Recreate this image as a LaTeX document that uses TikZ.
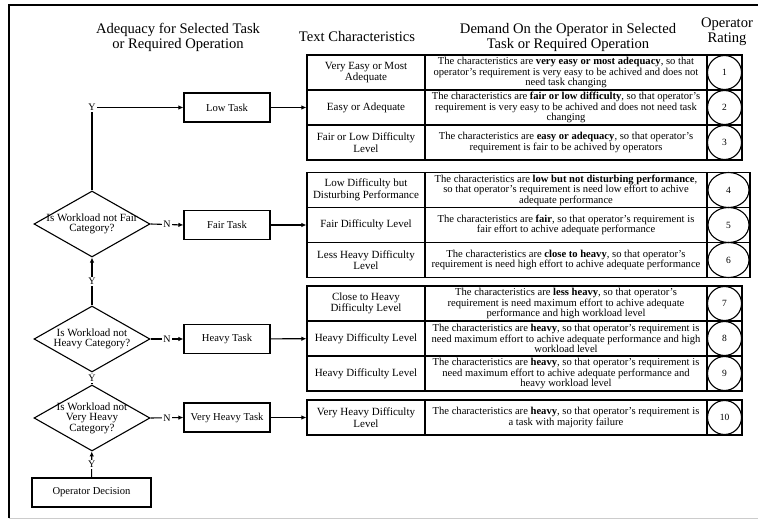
\documentclass[tikz,border=0pt]{standalone}
\usepackage{fontspec}
\setmainfont{Liberation Serif}
\usetikzlibrary{shapes.geometric,arrows.meta}
\tikzstyle{hdr}=[align=center,font=\fontsize{14.6}{15}\selectfont]
\tikzstyle{task}=[draw,line width=1.1pt,minimum width=86pt,minimum height=29pt,
  inner sep=0pt,font=\fontsize{10.6}{12}\selectfont]
\tikzstyle{dec}=[diamond,draw,line width=1.1pt,minimum width=116pt,minimum height=66pt,inner sep=0pt]
\tikzstyle{dectext}=[align=center,font=\fontsize{11}{10.6}\selectfont,inner sep=0pt]
\tikzstyle{kind}=[draw,line width=1.2pt,minimum width=118pt,minimum height=35pt,
  inner sep=0pt,align=center,font=\fontsize{11}{11.5}\selectfont]
\tikzstyle{desc}=[draw,line width=1.2pt,minimum width=282pt,minimum height=35pt,
  inner sep=0pt,align=center,font=\fontsize{10.6}{10.6}\selectfont]
\tikzstyle{cellr}=[draw,line width=1.2pt,minimum width=35pt,minimum height=35pt,inner sep=0pt]
\tikzstyle{rate}=[circle,draw,line width=1.1pt,minimum size=34pt,inner sep=0pt,
  font=\fontsize{9.5}{10}\selectfont]
\tikzstyle{rateo}=[ellipse,draw,line width=1.1pt,minimum width=41pt,minimum height=35pt,
  inner sep=0pt,font=\fontsize{9.5}{10}\selectfont]
\tikzstyle{yn}=[fill=white,inner sep=1pt,font=\fontsize{10}{10}\selectfont]
\tikzstyle{flow}=[line width=1.1pt,-{Latex[length=5pt,width=4.5pt]}]
\begin{document}
\begin{tikzpicture}[x=1pt,y=-1pt]
  \useasboundingbox (0,0) rectangle (758,521);
  % frame
  \draw[line width=1.5pt] (9,518) -- (9,5) -- (758,5);
  \draw[gray!40,line width=0.8pt] (9,518) -- (758,518);
  % headers
  \node[hdr] (h1) at (178,37) {Adequacy for Selected Task\\or Required Operation};
  \node[hdr] (h2) at (357,37) {Text Characteristics};
  \node[hdr] (h3) at (568,37) {Demand On the Operator in Selected\\Task or Required Operation};
  \node[hdr] (h4) at (727,32) {Operator\\Rating};
  % group 1
  \node[kind] (k1) at (366,72.5) {Very Easy or Most\\Adequate};
  \node[desc] (t1) at (566,72.5) {The characteristics are \textbf{very easy or most adequacy}, so that\\
    operator's requirement is very easy to be achived and does not\\need task changing};
  \node[cellr] (c1) at (724.5,72.5) {};
  \node[rate] (r1) at (c1) {1};
  \node[kind] (k2) at (366,107.5) {Easy or Adequate};
  \node[desc] (t2) at (566,107.5) {The characteristics are \textbf{fair or low difficulty}, so that operator's\\
    requirement is very easy to be achived and does not need task\\changing};
  \node[cellr] (c2) at (724.5,107.5) {};
  \node[rate] (r2) at (c2) {2};
  \node[kind] (k3) at (366,142.5) {Fair or Low Difficulty\\Level};
  \node[desc] (t3) at (566,142.5) {The characteristics are \textbf{easy or adequacy}, so that operator's\\
    requirement is fair to be achived by operators};
  \node[cellr] (c3) at (724.5,142.5) {};
  \node[rate] (r3) at (c3) {3};
  % group 2
  \node[kind] (k4) at (366,190) {Low Difficulty but\\Disturbing Performance};
  \node[desc] (t4) at (566,190) {The characteristics are \textbf{low but not disturbing performance},\\
    so that operator's requirement is need low effort to achive\\adequate performance};
  \node[cellr,minimum width=43pt] (c4) at (728.5,190) {};
  \node[rateo] (r4) at (c4) {4};
  \node[kind] (k5) at (366,225) {Fair Difficulty Level};
  \node[desc] (t5) at (566,225) {The characteristics are \textbf{fair}, so that operator's requirement is\\
    fair effort to achive adequate performance};
  \node[cellr,minimum width=43pt] (c5) at (728.5,225) {};
  \node[rateo] (r5) at (c5) {5};
  \node[kind] (k6) at (366,260) {Less Heavy Difficulty\\Level};
  \node[desc] (t6) at (566,260) {The characteristics are \textbf{close to heavy}, so that operator's\\
    requirement is need high effort to achive adequate performance};
  \node[cellr,minimum width=43pt] (c6) at (728.5,260) {};
  \node[rateo] (r6) at (c6) {6};
  % group 3
  \node[kind] (k7) at (366,303.5) {Close to Heavy\\Difficulty Level};
  \node[desc] (t7) at (566,303.5) {The characteristics are \textbf{less heavy}, so that operator's\\
    requirement is need maximum effort to achive adequate\\performance and high workload level};
  \node[cellr] (c7) at (724.5,303.5) {};
  \node[rate] (r7) at (c7) {7};
  \node[kind] (k8) at (366,338.5) {Heavy Difficulty Level};
  \node[desc] (t8) at (566,338.5) {The characteristics are \textbf{heavy}, so that operator's requirement is\\
    need maximum effort to achive adequate performance and high\\workload level};
  \node[cellr] (c8) at (724.5,338.5) {};
  \node[rate] (r8) at (c8) {8};
  \node[kind] (k9) at (366,373.5) {Heavy Difficulty Level};
  \node[desc] (t9) at (566,373.5) {The characteristics are \textbf{heavy}, so that operator's requirement is\\
    need maximum effort to achive adequate performance and\\heavy workload level};
  \node[cellr] (c9) at (724.5,373.5) {};
  \node[rate] (r9) at (c9) {9};
  % group 4
  \node[kind] (k10) at (366,417.5) {Very Heavy Difficulty\\Level};
  \node[desc] (t10) at (566,417.5) {The characteristics are \textbf{heavy}, so that operator's requirement is\\
    a task with majority failure};
  \node[cellr] (c10) at (724.5,417.5) {};
  \node[rate] (r10) at (c10) {10};
  % flow chart
  \node[task] (low) at (227,107.5) {Low Task};
  \node[task] (fair) at (227,225) {Fair Task};
  \node[task] (heavy) at (227,339) {Heavy Task};
  \node[task] (vheavy) at (227,417.5) {Very Heavy Task};
  \node[dec] (d1) at (92,224) {};
  \node[dectext] (d1t) at (d1) {Is Workload not Fair\\Category?};
  \node[dec] (d2) at (92,339) {};
  \node[dectext] (d2t) at (d2) {Is Workload not\\Heavy Category?};
  \node[dec] (d3) at (92,418) {};
  \node[dectext] (d3t) at (d3) {Is Workload not\\Very Heavy\\Category?};
  \node[task,minimum width=119pt] (op) at (91.5,492.5) {Operator Decision};
  \draw[flow] (op) -- node[yn] {Y} (d3);
  \draw[flow] (d3) -- node[yn] {Y} (d2);
  \draw[flow] (d2) -- node[yn] {Y} (d1);
  \draw[flow] (d1.north) |- node[yn,pos=0.5] {Y} (low.west);
  \draw[flow] (d1.east) -- node[yn] {N} (fair.west);
  \draw[flow] (d2.east) -- node[yn] {N} (heavy.west);
  \draw[flow] (d3.east) -- node[yn] {N} (vheavy.west);
  \draw[flow] (low) -- (k2);
  \draw[flow] (fair) -- (k5);
  \draw[flow] (heavy) -- (k8);
  \draw[flow] (vheavy) -- (k10);
\end{tikzpicture}
\end{document}
